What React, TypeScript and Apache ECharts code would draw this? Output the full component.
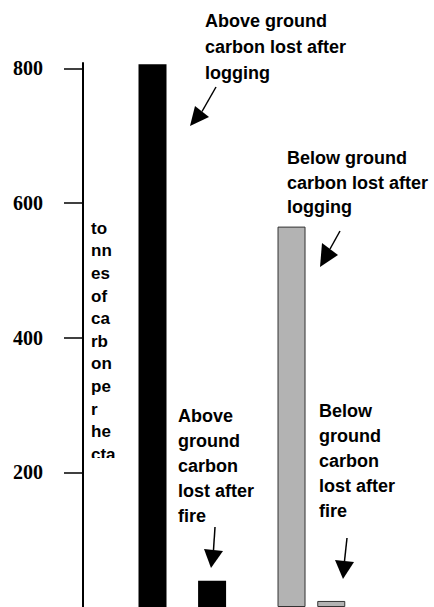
import React, { useEffect, useRef } from "react";
import * as echarts from "echarts";

// ---- data ----
const barNames = [
  "Above ground carbon lost after logging",
  "Above ground carbon lost after fire",
  "Below ground carbon lost after logging",
  "Below ground carbon lost after fire",
];
const barValues = [806, 39, 565, 9];
const barColors = ["#000000", "#000000", "#b3b3b3", "#b3b3b3"];
const yTickValues = [200, 400, 600, 800];
const yAxisTitle = "tonnes of carbon per hectare";
const yAxisTitleLines = ["to", "nn", "es", "of", "ca", "rb", "on", "pe", "r", "he", "cta", "re"];
const annotationTexts = [
  ["Above ground", "carbon lost after", "logging"],
  ["Below ground", "carbon lost after", "logging"],
  ["Above", "ground", "carbon", "lost after", "fire"],
  ["Below", "ground", "carbon", "lost after", "fire"],
];

// ---- layout ----
const SLOT_COUNT = 17;
const SLOT_OF_BAR = [3, 6, 10, 12];
const SANS = '"Liberation Sans", Arial, Helvetica, sans-serif';
const SERIF = '"Liberation Serif", "Times New Roman", serif';

export default function App() {
  const ref = useRef<HTMLDivElement>(null);

  useEffect(() => {
    if (!ref.current) return;
    const chart = echarts.init(ref.current, null, { renderer: "svg" });

    const categories: string[] = [];
    const data: any[] = [];
    for (let i = 0; i < SLOT_COUNT; i++) {
      const b = SLOT_OF_BAR.indexOf(i);
      categories.push(b >= 0 ? barNames[b] : "");
      data.push(
        b >= 0
          ? {
              value: barValues[b],
              itemStyle: {
                color: barColors[b],
                borderColor: b >= 2 ? "#333333" : "#000000",
                borderWidth: b >= 2 ? 1 : 0,
              },
            }
          : null
      );
    }

    const annPos = [
      [205, 8],
      [287, 146],
      [178, 403],
      [319, 398],
    ];
    const annLineHeight = [26, 24.5, 25, 25];

    const arrow = (x1: number, y1: number, tip: number[], a: number[], b: number[]) => [
      {
        type: "line",
        shape: { x1, y1, x2: (a[0] + b[0]) / 2, y2: (a[1] + b[1]) / 2 },
        style: { stroke: "#000", lineWidth: 1.5 },
        z: 10,
      },
      {
        type: "polygon",
        shape: { points: [tip, a, b] },
        style: { fill: "#000" },
        z: 10,
      },
    ];

    const graphics: any[] = [
      {
        type: "text",
        left: 91,
        top: 217,
        style: {
          text: yAxisTitleLines.join("\n"),
          font: `bold 17px ${SANS}`,
          lineHeight: 22.6,
          fill: "#000",
        },
        z: 5,
      },
      {
        type: "rect",
        shape: { x: 86, y: 458, width: 48, height: 60 },
        style: { fill: "#fff" },
        z: 6,
      },
      ...annotationTexts.map((lines, i) => ({
        type: "text",
        x: annPos[i][0],
        y: annPos[i][1],
        style: {
          text: lines.join("\n"),
          font: `bold 18px ${SANS}`,
          lineHeight: annLineHeight[i],
          fill: "#000",
          verticalAlign: "top",
        },
        z: 10,
      })),
      ...arrow(216, 87, [190, 126], [195, 106], [209, 117]),
      ...arrow(340, 231, [320, 267], [322, 243], [338, 255]),
      ...arrow(215, 527, [211, 568], [204, 549], [223, 551]),
      ...arrow(347, 538, [343, 579], [335, 560], [354, 562]),
    ];

    chart.setOption({
      animation: false,
      backgroundColor: "#ffffff",
      grid: { left: 83, top: 63, bottom: 0, width: SLOT_COUNT * 19.86, containLabel: false },
      xAxis: {
        type: "category",
        data: categories,
        show: false,
      },
      yAxis: {
        type: "value",
        name: "",
        min: 0,
        max: 808,
        axisLine: { show: true, lineStyle: { color: "#000", width: 2 } },
        axisTick: {
          show: true,
          customValues: yTickValues,
          length: 19,
          inside: false,
          lineStyle: { color: "#000", width: 1.5 },
        },
        axisLabel: {
          customValues: yTickValues,
          margin: 40,
          color: "#000",
          fontFamily: SERIF,
          fontWeight: "bold",
          fontSize: 20,
        },
        splitLine: { show: false },
      },
      series: [
        {
          type: "bar",
          name: yAxisTitle,
          data,
          barWidth: 28,
        },
      ],
      graphic: graphics,
    });

    return () => chart.dispose();
  }, []);

  return (
    <div
      ref={ref}
      style={{ position: "absolute", left: 0, top: 0, width: 434, height: 607 }}
    />
  );
}
